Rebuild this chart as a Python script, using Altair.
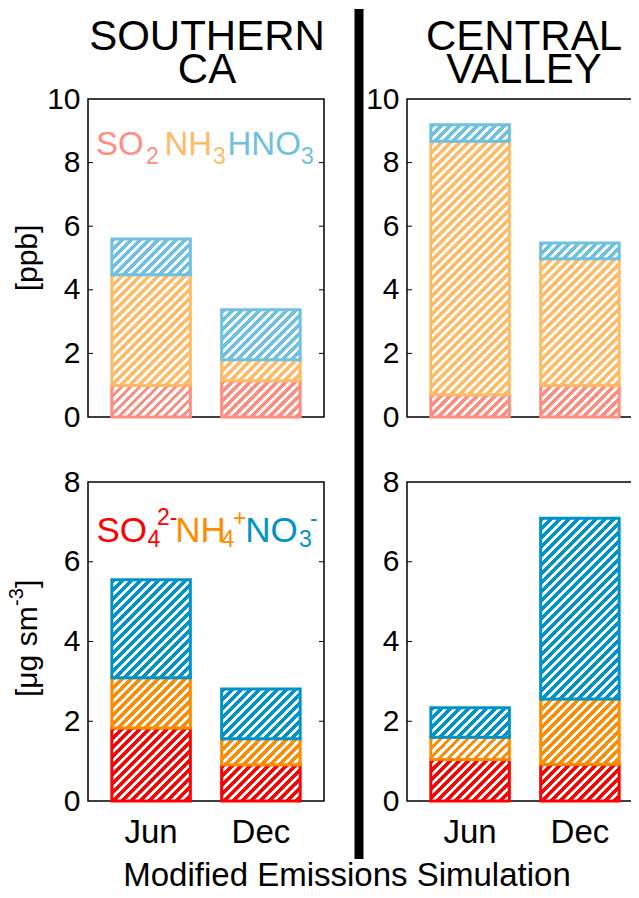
import altair as alt
import pandas as pd

# ---------------- data ----------------
months = ["Jun", "Dec"]

gas_species = ["SO2", "NH3", "HNO3"]          # [ppb]
socal_so2 = [1.00, 1.14]
socal_nh3 = [3.47, 0.66]
socal_hno3 = [1.13, 1.57]
cv_so2 = [0.70, 1.00]
cv_nh3 = [7.97, 3.98]
cv_hno3 = [0.52, 0.49]

aer_species = ["SO4", "NH4", "NO3"]           # [ug sm-3]
socal_so4 = [1.83, 0.91]
socal_nh4 = [1.26, 0.65]
socal_no3 = [2.46, 1.25]
cv_so4 = [1.04, 0.92]
cv_nh4 = [0.56, 1.64]
cv_no3 = [0.74, 4.53]

gas_ticks = [0, 2, 4, 6, 8, 10]
aer_ticks = [0, 2, 4, 6, 8]

region_titles = [["SOUTHERN", "CA"], ["CENTRAL", "VALLEY"]]
x_title = "Modified Emissions Simulation"

# ---------------- style ----------------
FONT = "Liberation Sans"
GAS_COLORS = ["#FF8E80", "#FFBB66", "#6EC1DF"]
AER_COLORS = ["#FF0000", "#FF8C00", "#0093C9"]
W = 236
H_TOP = 318
H_BOT = 319
PAD_IN = 0.285
PAD_OUT = 0.217
STEP = W / (len(months) - PAD_IN + 2 * PAD_OUT)
BW = STEP * (1 - PAD_IN)


def hatch(color, w, h, period=9.0, frac=0.55):
    L = w + h
    d = w * w + h * h
    a = w * L / d
    b = h * L / d
    p = period / L
    stops = []
    t = 0.0
    while t < 1.0 - 1e-9:
        t1 = min(t + frac * p, 1.0)
        t2 = min(t + p, 1.0)
        stops += [(t, color), (t1, color), (t1, "white"), (t2, "white")]
        t += p
    return alt.LinearGradient(
        gradient="linear", x1=0, y1=0, x2=round(a, 5), y2=round(b, 5),
        stops=[alt.GradientStop(offset=round(o, 5), color=c) for o, c in stops],
    )


def one():
    return pd.DataFrame({"a": [0]})


def txt(text, x, y, size, color="black", align="left", angle=0, baseline="alphabetic"):
    return alt.Chart(one()).mark_text(
        text=text, fontSize=size, font=FONT, color=color, align=align,
        baseline=baseline, angle=angle,
    ).encode(x=alt.value(x), y=alt.value(y))


def panel(series, species, colors, ticks, height, show_x):
    ymax = ticks[-1]
    rows = []
    for mi, m in enumerate(months):
        lo = 0.0
        for s, vals in zip(species, series):
            v = vals[mi]
            rows.append({"month": m, "species": s, "lo": lo, "hi": lo + v, "value": v})
            lo += v
    df = pd.DataFrame(rows)
    if show_x:
        x_axis = alt.Axis(title=None, labelFontSize=33, labelAngle=0, labelPadding=41,
                          labelBaseline="alphabetic", ticks=False, tickSize=0, domain=False,
                          grid=False, labelColor="black", labelFont=FONT)
    else:
        x_axis = None
    x_scale = alt.Scale(domain=months, paddingInner=PAD_IN, paddingOuter=PAD_OUT)
    y_scale = alt.Scale(domain=[0, ymax], nice=False, zero=True)
    y_axis = alt.Axis(values=ticks, title=None, labelFontSize=30, labelPadding=8, ticks=False,
                      tickSize=0, domain=False, grid=False, labelColor="black",
                      labelFont=FONT, format="d")
    x_enc = alt.X("month:N", sort=months, scale=x_scale, axis=x_axis)
    layers = []
    for s, c in zip(species, colors):
        for m in months:
            seg = df[(df.species == s) & (df.month == m)]
            h = float(seg["value"].iloc[0]) * height / ymax
            layers.append(
                alt.Chart(seg).mark_bar(fill=hatch(c, BW, h), stroke=c, strokeWidth=3).encode(
                    x=x_enc, y=alt.Y("lo:Q", scale=y_scale, axis=y_axis), y2="hi:Q")
            )
    tick_df = pd.DataFrame({"lo": ticks[1:-1]})
    for xa, xb in [(0, 5), (W - 5, W)]:
        layers.append(
            alt.Chart(tick_df).mark_rule(color="black", strokeWidth=1).encode(
                y=alt.Y("lo:Q", scale=y_scale, axis=y_axis), x=alt.value(xa), x2=alt.value(xb))
        )
    return layers


# top-left: Southern CA gases
tl_layers = panel([socal_so2, socal_nh3, socal_hno3], gas_species, GAS_COLORS, gas_ticks, H_TOP, False)
tl_layers += [
    txt(region_titles[0][0], 119, -49, 42, align="center"),
    txt(region_titles[0][1], 119, -16, 42, align="center"),
    txt("[ppb]", -51, 159, 30, align="center", angle=270),
    txt("SO", 8, 56, 33, GAS_COLORS[0]),
    txt("2", 58, 65, 23, GAS_COLORS[0]),
    txt("NH", 76.5, 56, 33, GAS_COLORS[1]),
    txt("3", 125, 65, 23, GAS_COLORS[1]),
    txt("HNO", 139.5, 56, 33, GAS_COLORS[2]),
    txt("3", 213, 65, 23, GAS_COLORS[2]),
]
tl = alt.layer(*tl_layers).properties(width=W, height=H_TOP)

# top-right: Central Valley gases
tr_layers = panel([cv_so2, cv_nh3, cv_hno3], gas_species, GAS_COLORS, gas_ticks, H_TOP, False)
tr_layers += [
    txt(region_titles[1][0], 117, -49, 42, align="center"),
    txt(region_titles[1][1], 117, -16, 42, align="center"),
]
tr = alt.layer(*tr_layers).properties(width=W, height=H_TOP)

# bottom-left: Southern CA aerosol
bl_layers = panel([socal_so4, socal_nh4, socal_no3], aer_species, AER_COLORS, aer_ticks, H_BOT, True)
bl_layers += [
    txt("[μg sm", -51, 215, 30, angle=270),
    txt("-3", -65, 124, 20, angle=270),
    txt("]", -51, 106, 30, angle=270),
    txt("SO", 8.5, 60, 35, AER_COLORS[0]),
    txt("4", 59.5, 65, 23, AER_COLORS[0]),
    txt("2-", 69, 43, 23, AER_COLORS[0]),
    txt("NH", 87.3, 60, 35, AER_COLORS[1]),
    txt("4", 133.5, 65, 23, AER_COLORS[1]),
    txt("+", 145, 44, 23, AER_COLORS[1]),
    txt("NO", 157.3, 60, 35, AER_COLORS[2]),
    txt("3", 211, 65, 23, AER_COLORS[2]),
    txt("-", 222, 44, 23, AER_COLORS[2]),
    txt(x_title, 259, 404, 33, align="center"),
]
bl = alt.layer(*bl_layers).properties(width=W, height=H_BOT)

# bottom-right: Central Valley aerosol
br_layers = panel([cv_so4, cv_nh4, cv_no3], aer_species, AER_COLORS, aer_ticks, H_BOT, True)
br_layers += [
    alt.Chart(one()).mark_rule(color="black", strokeWidth=9).encode(
        x=alt.value(-48), y=alt.value(-473), y2=alt.value(377)),
]
br = alt.layer(*br_layers).properties(width=W, height=H_BOT)

chart = (
    alt.concat(tl, tr, bl, br, columns=2, spacing={"row": 65, "column": 83}, bounds="flush")
    .properties(padding={"left": -2, "top": -5, "right": -14, "bottom": -7})
    .configure(background="white", font=FONT)
    .configure_view(stroke="black", strokeWidth=1.5)
)

chart.save("out.html", embed_options={"renderer": "svg", "actions": False})
